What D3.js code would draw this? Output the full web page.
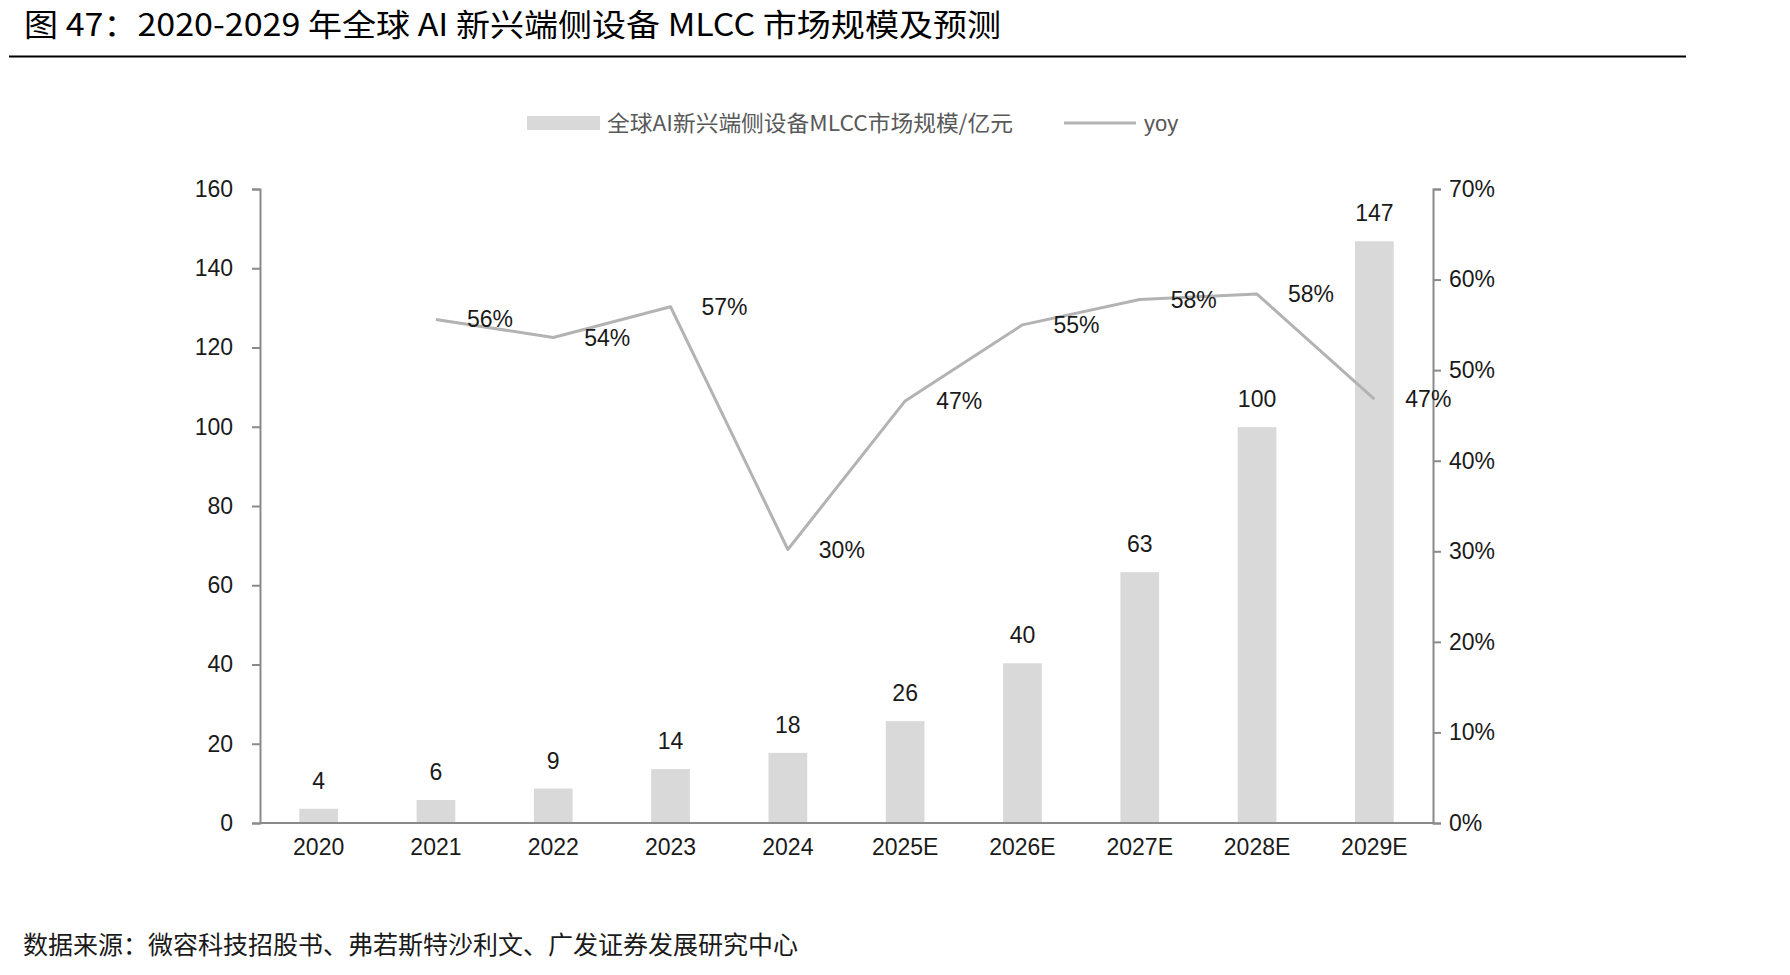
<!DOCTYPE html>
<html>
<head>
<meta charset="utf-8">
<script src="https://cdn.jsdelivr.net/npm/d3@7"></script>
<style>
  html, body { margin: 0; padding: 0; background: #fff; }
  svg { display: block; }
</style>
</head>
<body>
<svg id="chart" width="1790" height="975"></svg>
<script>
// ---- data ----
const categories = ["2020", "2021", "2022", "2023", "2024", "2025E", "2026E", "2027E", "2028E", "2029E"];
const marketSize = [3.6, 5.8, 8.7, 13.6, 17.7, 25.7, 40.3, 63.3, 99.9, 146.8];
const yoy = [null, 0.556, 0.536, 0.570, 0.302, 0.466, 0.550, 0.578, 0.584, 0.468];
const leftTicks = [0, 20, 40, 60, 80, 100, 120, 140, 160];
const rightTicks = [0, 0.1, 0.2, 0.3, 0.4, 0.5, 0.6, 0.7];
const titleText = "图 47：2020-2029 年全球 AI 新兴端侧设备 MLCC 市场规模及预测";
const barSeriesName = "全球AI新兴端侧设备MLCC市场规模/亿元";
const lineSeriesName = "yoy";
const sourceText = "数据来源：微容科技招股书、弗若斯特沙利文、广发证券发展研究中心";

// ---- layout ----
const svg = d3.select("#chart");
const plot = { left: 260, right: 1433, top: 189, bottom: 823 };
const numFont = "'Liberation Sans', Arial, sans-serif";
const cjkFont = "'Noto Sans CJK SC', 'Liberation Sans', sans-serif";
const axisColor = "#8a8a8a";
const barColor = "#d9d9d9";
const lineColor = "#b3b3b3";

const x = d3.scaleBand().domain(categories).range([plot.left, plot.right]).paddingInner(0.67).paddingOuter(0.335);
const yL = d3.scaleLinear().domain([0, 160]).range([plot.bottom, plot.top]);
const yR = d3.scaleLinear().domain([0, 0.7]).range([plot.bottom, plot.top]);

// title
svg.append("text")
  .attr("x", 24).attr("y", 36)
  .attr("font-family", cjkFont).attr("font-size", 31)
  .attr("fill", "#000")
  .attr("textLength", 977).attr("lengthAdjust", "spacingAndGlyphs")
  .text(titleText);
svg.append("line")
  .attr("x1", 9).attr("x2", 1686).attr("y1", 56.5).attr("y2", 56.5)
  .attr("stroke", "#000").attr("stroke-width", 2);

// legend
const legY = 123;
svg.append("rect").attr("x", 527).attr("y", legY - 7).attr("width", 73).attr("height", 14).attr("fill", barColor);
svg.append("text")
  .attr("x", 607).attr("y", legY).attr("dy", "0.35em")
  .attr("font-family", cjkFont).attr("font-size", 22).attr("fill", "#595959")
  .attr("textLength", 406).attr("lengthAdjust", "spacingAndGlyphs")
  .text(barSeriesName);
svg.append("line").attr("x1", 1064).attr("x2", 1136).attr("y1", legY).attr("y2", legY)
  .attr("stroke", lineColor).attr("stroke-width", 3);
svg.append("text")
  .attr("x", 1144).attr("y", legY).attr("dy", "0.35em")
  .attr("font-family", numFont).attr("font-size", 22).attr("fill", "#595959")
  .text(lineSeriesName);

// bars
svg.append("g").selectAll("rect").data(categories).join("rect")
  .attr("x", d => x(d))
  .attr("width", x.bandwidth())
  .attr("y", (d, i) => yL(marketSize[i]))
  .attr("height", (d, i) => yL(0) - yL(marketSize[i]))
  .attr("fill", barColor);

// bar labels
svg.append("g").selectAll("text").data(categories).join("text")
  .attr("x", d => x(d) + x.bandwidth() / 2)
  .attr("y", (d, i) => yL(marketSize[i]) - 20)
  .attr("text-anchor", "middle")
  .attr("font-family", numFont).attr("font-size", 23).attr("fill", "#1a1a1a")
  .text((d, i) => d3.format(".0f")(marketSize[i]));

// axes
const leftAxis = d3.axisLeft(yL).tickValues(leftTicks).tickSize(8).tickPadding(19).tickFormat(d3.format("d"));
const gL = svg.append("g").attr("transform", `translate(${plot.left},0)`).call(leftAxis);
const rightAxis = d3.axisRight(yR).tickValues(rightTicks).tickSize(8).tickPadding(8).tickFormat(d3.format(".0%"));
const gR = svg.append("g").attr("transform", `translate(${plot.right},0)`).call(rightAxis);
const bottomAxis = d3.axisBottom(x).tickSize(0).tickPadding(16);
const gB = svg.append("g").attr("transform", `translate(0,${plot.bottom})`).call(bottomAxis);

[gL, gR, gB].forEach(g => {
  g.select(".domain").attr("stroke", axisColor).attr("stroke-width", 2);
  g.selectAll(".tick line").attr("stroke", axisColor).attr("stroke-width", 2);
  g.selectAll(".tick text").attr("font-family", numFont).attr("font-size", 23).attr("fill", "#1a1a1a");
});
gB.select(".domain").attr("d", `M${plot.left},0H${plot.right}`);

// yoy line
const pts = categories.map((c, i) => ({ c, v: yoy[i] })).filter(d => d.v !== null);
const line = d3.line().x(d => x(d.c) + x.bandwidth() / 2).y(d => yR(d.v));
svg.append("path").datum(pts)
  .attr("d", line)
  .attr("fill", "none").attr("stroke", lineColor).attr("stroke-width", 3)
  .attr("stroke-linejoin", "round");

// yoy labels
svg.append("g").selectAll("text").data(pts).join("text")
  .attr("x", d => x(d.c) + x.bandwidth() / 2 + 54)
  .attr("y", d => yR(d.v))
  .attr("dy", "0.35em")
  .attr("text-anchor", "middle")
  .attr("font-family", numFont).attr("font-size", 23).attr("fill", "#1a1a1a")
  .text(d => d3.format(".0%")(d.v));

// source
svg.append("text")
  .attr("x", 23).attr("y", 954)
  .attr("font-family", cjkFont).attr("font-size", 25).attr("fill", "#1a1a1a")
  .text(sourceText);
</script>
</body>
</html>
